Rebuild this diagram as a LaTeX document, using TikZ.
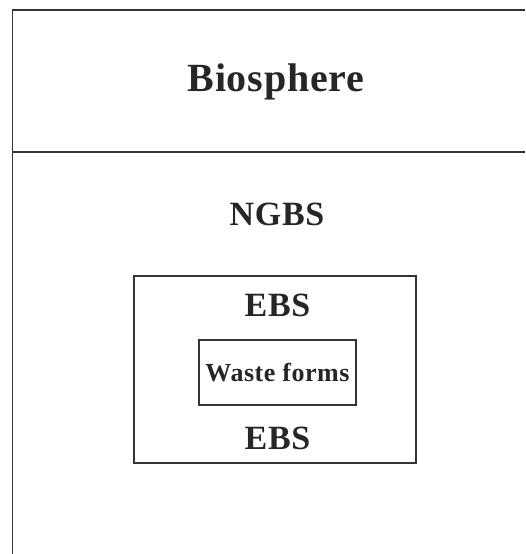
\documentclass[tikz,border=0pt]{standalone}
\usepackage{fontspec}
\setmainfont[LetterSpace=2]{Liberation Serif}
\usetikzlibrary{positioning}

\begin{document}
\begin{tikzpicture}[x=1pt, y=-1pt, thick, node distance=20pt] % Styles
\tikzstyle{frame}=[draw=black!80, line width=1.6pt]
\tikzstyle{barrier}=[frame, minimum width=282pt, minimum height=187pt]
\tikzstyle{wastebox}=[frame, inner sep=0pt, text=black!85, minimum width=157pt, minimum height=65pt, font=\fontsize{26}{30}\selectfont\bfseries]
\tikzstyle{title}=[inner sep=0pt, anchor=base, text=black!85, font=\fontsize{40}{48}\selectfont\bfseries]
\tikzstyle{tag}=[inner sep=0pt, text=black!85, font=\fontsize{34}{40}\selectfont\bfseries]
\useasboundingbox (0,0) rectangle (525,554);
% Outer frame
\draw[frame] (525,10) -- (12.5,10) -- (12.5,554);
\draw[frame] (12.5,152) -- (525,152); % Nodes
\node[title] (bio) at (276,91) {Biosphere};
\node[tag, anchor=base] (ngbs) at (277,225) {NGBS};
\node[barrier] (ebs) at (275,369.5) {};
\node[wastebox] (wf) at (277.5,372.5) {Waste forms};
\node[tag, above=22pt of wf] (ebsup) {EBS};
\node[tag, below=21pt of wf] (ebsdown) {EBS};
\end{tikzpicture}
\end{document}
